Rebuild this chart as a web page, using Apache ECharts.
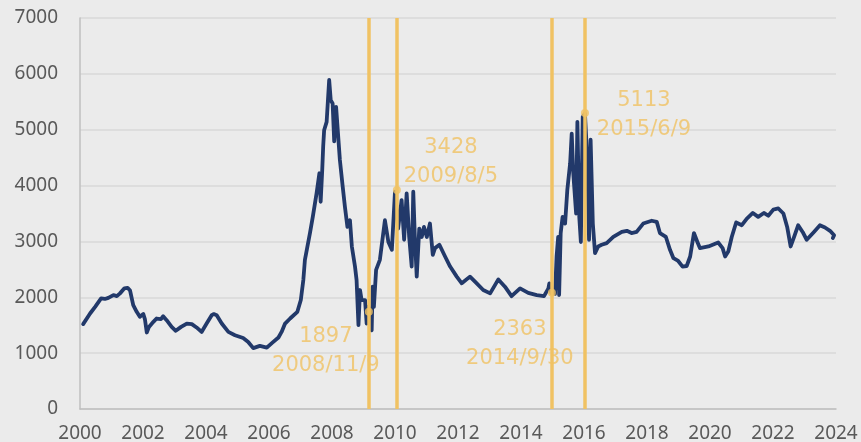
<!DOCTYPE html>
<html>
<head>
<meta charset="utf-8">
<script src="https://cdn.jsdelivr.net/npm/echarts@6/dist/echarts.min.js"></script>
<style>
  html, body { margin: 0; padding: 0; background: #ebebeb; }
  #chart { width: 861px; height: 442px; }
</style>
</head>
<body>
<div id="chart"></div>
<script>
// index series (year as decimal)
const years = [
  2000.10, 2000.32, 2000.48, 2000.67, 2000.79, 2000.90, 2001.06, 2001.17, 2001.27, 2001.41,
  2001.51, 2001.59, 2001.69, 2001.80, 2001.90, 2002.01, 2002.06, 2002.12, 2002.19, 2002.33,
  2002.43, 2002.57, 2002.64, 2002.75, 2002.91, 2003.04, 2003.21, 2003.39, 2003.55, 2003.70,
  2003.86, 2004.02, 2004.18, 2004.25, 2004.34, 2004.50, 2004.71, 2004.92, 2005.18, 2005.34,
  2005.50, 2005.71, 2005.93, 2006.09, 2006.30, 2006.40, 2006.51, 2006.67, 2006.90, 2007.01,
  2007.09, 2007.14, 2007.30, 2007.39, 2007.51, 2007.60, 2007.64, 2007.69, 2007.72, 2007.75,
  2007.83, 2007.91, 2007.96, 2008.02, 2008.07, 2008.13, 2008.17, 2008.25, 2008.34, 2008.41,
  2008.49, 2008.57, 2008.63, 2008.73, 2008.78, 2008.84, 2008.89, 2008.94, 2009.05, 2009.10,
  2009.15, 2009.21, 2009.26, 2009.29, 2009.33, 2009.40, 2009.52, 2009.68, 2009.79, 2009.90,
  2010.00, 2010.10, 2010.21, 2010.29, 2010.37, 2010.42, 2010.45, 2010.53, 2010.58, 2010.63,
  2010.69, 2010.77, 2010.85, 2010.92, 2011.01, 2011.11, 2011.20, 2011.27, 2011.41, 2011.59,
  2011.75, 2011.96, 2012.12, 2012.38, 2012.54, 2012.80, 2013.02, 2013.28, 2013.49, 2013.70,
  2013.97, 2014.23, 2014.50, 2014.73, 2014.87, 2014.90, 2014.97, 2015.08, 2015.13, 2015.18,
  2015.21, 2015.26, 2015.32, 2015.40, 2015.47, 2015.56, 2015.61, 2015.66, 2015.75, 2015.79,
  2015.85, 2015.90, 2015.96, 2016.03, 2016.10, 2016.16, 2016.21, 2016.28, 2016.35, 2016.45,
  2016.56, 2016.72, 2016.93, 2017.20, 2017.36, 2017.51, 2017.67, 2017.88, 2018.15, 2018.31,
  2018.41, 2018.60, 2018.73, 2018.84, 2018.99, 2019.13, 2019.26, 2019.37, 2019.49, 2019.60,
  2019.68, 2019.95, 2020.26, 2020.40, 2020.48, 2020.58, 2020.69, 2020.83, 2021.01, 2021.17,
  2021.36, 2021.53, 2021.71, 2021.85, 2022.01, 2022.17, 2022.33, 2022.45, 2022.56, 2022.67,
  2022.80, 2022.94, 2023.07, 2023.30, 2023.49, 2023.65, 2023.81, 2023.94, 2023.90
];
const values = [
  1520, 1710, 1830, 1980, 1970, 1990, 2040, 2020, 2070, 2160,
  2170, 2120, 1860, 1740, 1650, 1700, 1610, 1370, 1470, 1560,
  1620, 1610, 1660, 1590, 1470, 1400, 1470, 1530, 1520, 1460,
  1380, 1530, 1680, 1700, 1680, 1530, 1380, 1320, 1270, 1200,
  1090, 1130, 1100, 1180, 1280, 1380, 1530, 1620, 1740, 1950,
  2310, 2670, 3150, 3440, 3860, 4220, 3710, 4280, 4700, 4990,
  5140, 5890, 5530, 5470, 4790, 5410, 5410, 4460, 3980, 3620,
  3260, 3380, 2910, 2550, 2310, 1500, 2130, 1950, 1950, 1530,
  1830, 1470, 1410, 2190, 1830, 2490, 2670, 3380, 2990, 2850,
  3890, 3230, 3740, 3030, 3860, 3380, 3080, 2550, 3890, 3080,
  2370, 3230, 3080, 3260, 3080, 3320, 2760, 2880, 2940, 2730,
  2550, 2370, 2250, 2370, 2280, 2130, 2070, 2320, 2190, 2020,
  2160, 2080, 2040, 2020, 2160, 2250, 2070, 2060, 2730, 3080,
  2040, 3150, 3440, 3320, 3920, 4400, 4930, 4220, 3500, 5140,
  3440, 2990, 5230, 5290, 4520, 3030, 4820, 3320, 2790, 2910,
  2940, 2970, 3080, 3170, 3190, 3150, 3170, 3320, 3370, 3350,
  3150, 3080, 2850, 2700, 2650, 2550, 2560, 2730, 3150, 2990,
  2880, 2910, 2980, 2880, 2730, 2820, 3080, 3340, 3290, 3410,
  3510, 3440, 3510, 3460, 3570, 3590, 3500, 3260, 2910, 3080,
  3290, 3170, 3030, 3170, 3290, 3250, 3190, 3110, 3060
];

// turning points marked with vertical lines
const turnYears = [2009.17, 2010.06, 2014.98, 2016.03];
const turnValues = [1740, 3920, 2080, 5300];
const turnLabels = ['1897\n2008/11/9', '3428\n2009/8/5', '2363\n2014/9/30', '5113\n2015/6/9'];

// axis ticks
const xTicks = { min: 2000, max: 2024, step: 2 };
const yTicks = { min: 0, max: 7000, step: 1000 };

const navy = '#22396a';
const gold = '#f0c263';
const labelOffsets = [[-43, 39], [54, -28], [-32, 51], [59, 2]];

const chart = echarts.init(document.getElementById('chart'));
chart.setOption({
  backgroundColor: '#ebebeb',
  animation: false,
  grid: { left: 80, right: 25, top: 18, bottom: 33, containLabel: false, outerBoundsMode: 'none' },
  xAxis: {
    type: 'value',
    min: xTicks.min,
    max: xTicks.max,
    interval: xTicks.step,
    axisLine: { show: true, lineStyle: { color: '#bfbfbf', width: 1.5 } },
    axisTick: { show: false },
    splitLine: { show: false },
    axisLabel: {
      color: '#595959',
      fontSize: 19,
      fontFamily: 'Noto Sans',
      margin: 15,
      formatter: (v) => String(v)
    }
  },
  yAxis: {
    type: 'value',
    min: yTicks.min,
    max: yTicks.max,
    interval: yTicks.step,
    axisLine: { show: true, lineStyle: { color: '#bfbfbf', width: 1.5 } },
    axisTick: { show: false },
    splitLine: { lineStyle: { color: '#d9d9d9', width: 1.5 } },
    axisLabel: {
      color: '#595959',
      fontSize: 19,
      fontFamily: 'Noto Sans',
      margin: 22,
      formatter: (v) => String(v)
    }
  },
  series: [
    {
      type: 'line',
      data: years.map((y, i) => [y, values[i]]),
      showSymbol: false,
      lineStyle: { color: navy, width: 3.8, join: 'round', cap: 'round' },
      z: 3,
      markLine: {
        silent: true,
        symbol: ['none', 'none'],
        label: { show: false },
        lineStyle: { color: gold, width: 3.5, type: 'solid' },
        data: turnYears.map((y) => ({ xAxis: y }))
      }
    },
    {
      type: 'scatter',
      symbol: 'circle',
      symbolSize: 8,
      itemStyle: { color: gold },
      z: 4,
      data: turnYears.map((y, i) => ({
        value: [y, turnValues[i]],
        label: {
          show: true,
          position: 'inside',
          offset: labelOffsets[i],
          formatter: turnLabels[i],
          color: gold,
          fontSize: 21,
          fontFamily: 'DejaVu Sans',
          lineHeight: 29,
          align: 'center',
          verticalAlign: 'middle'
        }
      }))
    }
  ]
});
</script>
</body>
</html>
